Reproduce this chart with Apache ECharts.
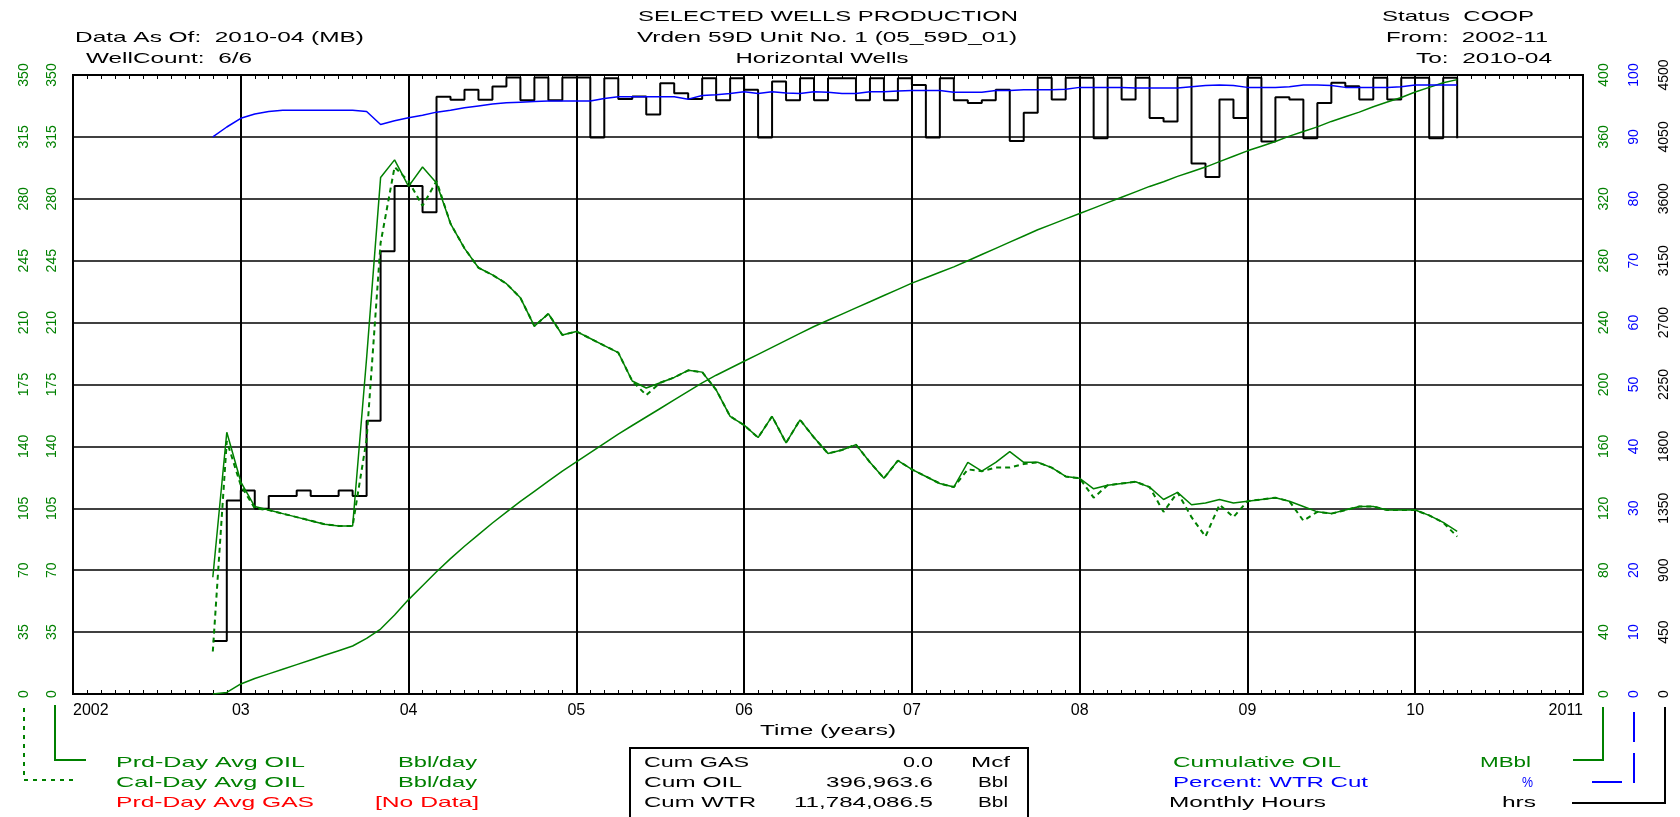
<!DOCTYPE html>
<html><head><meta charset="utf-8">
<script src="https://cdn.jsdelivr.net/npm/echarts@6/dist/echarts.min.js"></script>
<style>html,body{margin:0;padding:0;background:#fff}#c{width:1680px;height:817px}</style>
</head><body><div id="c"></div><script>
// ---- months 2002-11 .. 2010-04 ----
const months = [];
for (let i = 0; i < 90; i++) { const m = 10 + i; months.push((2002 + Math.floor(m / 12)) + '-' + String(m % 12 + 1).padStart(2, '0')); }

// Prd-Day Avg OIL (Bbl/day)
const prdOil = [66, 148,
 120, 106, 104, 102, 100, 98, 96, 95, 95, 190, 292, 302,
 287, 298, 289, 266, 252, 241, 237, 232, 224, 208, 215, 203,
 205, 201, 197, 193, 177, 173, 176, 179, 183, 182, 172, 157,
 152, 145, 157, 142, 155, 145, 136, 138, 141, 131, 122, 132,
 127, 123, 119, 117, 131, 126, 131, 137, 131, 131, 128, 123,
 122, 116, 118, 119, 120, 117, 110, 114, 107, 108, 110, 108,
 109, 110, 111, 109, 106, 103, 102, 104, 106, 106, 104, 104,
 104, 101, 97, 92];
// Cal-Day Avg OIL (Bbl/day)
const calOil = [24, 143,
 118, 105, 104, 102, 100, 98, 96, 95, 95, 144, 255, 298,
 290, 276, 290, 266, 252, 241, 237, 232, 224, 208, 215, 203,
 205, 201, 197, 193, 177, 169, 176, 179, 183, 182, 172, 157,
 152, 145, 157, 142, 155, 145, 136, 138, 141, 131, 122, 132,
 127, 123, 119, 117, 127, 126, 128, 128, 130, 131, 128, 123,
 122, 111, 118, 119, 120, 117, 103, 114, 100, 89, 107, 100,
 109, 110, 111, 109, 98, 103, 102, 104, 106, 106, 104, 104,
 104, 101, 97, 89];
// Cumulative OIL (MBbl)
const cumOil = [0, 1,
 6.5, 10, 13, 16, 19, 22, 25, 28, 31, 36, 42, 51,
 61, 70, 79, 87.5, 95.5, 103, 110.5, 117.5, 124.5, 131, 137.5, 144,
 150, 156, 162, 168, 173.5, 179, 184.5, 190, 195.5, 201, 206, 210.5,
 215, 219.5, 224, 228.5, 233, 237.5, 241.5, 245.5, 249.5, 253.5, 257.5, 261.5,
 265.5, 269, 272.5, 276, 280, 284, 288, 292, 296, 300, 303.5, 307,
 310.5, 314, 317.5, 321, 324.5, 328, 331, 334.5, 337.5, 340.5, 344, 347.5,
 351, 354, 357, 360.5, 363.5, 366.5, 370, 373, 376, 379.5, 382.5, 385.5,
 389, 392, 395, 397];
// Percent WTR Cut (%)
const wtrCut = [90, 91.6,
 93, 93.7, 94.1, 94.3, 94.3, 94.3, 94.3, 94.3, 94.3, 94.1, 92, 92.6,
 93.1, 93.5, 94.0, 94.3, 94.7, 95.0, 95.3, 95.5, 95.6, 95.7, 95.8, 95.8,
 95.8, 95.8, 96.2, 96.5, 96.5, 96.5, 96.5, 96.5, 96.1, 96.7, 96.8, 97.0,
 97.3, 97.0, 97.3, 97.1, 97.0, 97.3, 97.2, 97.0, 97.0, 97.3, 97.3, 97.4,
 97.5, 97.5, 97.5, 97.2, 97.2, 97.2, 97.5, 97.5, 97.6, 97.6, 97.6, 97.7,
 98.0, 98.0, 98.0, 98.0, 97.9, 97.9, 97.9, 97.9, 98.1, 98.3, 98.4, 98.3,
 98.0, 98.0, 98.0, 98.1, 98.4, 98.4, 98.3, 98.0, 98.0, 98.0, 98.0, 98.1,
 98.4, 98.4, 98.4, 98.4];
// Monthly Hours (hrs)
const hours = [386, 1407,
 1480, 1347, 1440, 1440, 1480, 1440, 1440, 1480, 1440, 1986, 3218, 3693,
 3693, 3503, 4341, 4320, 4392, 4320, 4416, 4481, 4316, 4481, 4316, 4481,
 4481, 4045, 4476, 4325, 4344, 4213, 4440, 4368, 4325, 4476, 4316, 4476,
 4392, 4045, 4452, 4316, 4476, 4316, 4476, 4476, 4316, 4476, 4316, 4476,
 4428, 4045, 4476, 4316, 4297, 4316, 4392, 4021, 4225, 4480, 4321, 4480,
 4480, 4040, 4480, 4321, 4480, 4187, 4162, 4480, 3857, 3759, 4321, 4187,
 4480, 4016, 4339, 4321, 4040, 4297, 4444, 4419, 4321, 4480, 4321, 4480,
 4480, 4040, 4480, 4040];

// Texts
const headerLeft = ['Data As Of:  2010-04 (MB)', 'WellCount:  6/6'];
const headerCenter = ['SELECTED WELLS PRODUCTION', 'Vrden 59D Unit No. 1 (05_59D_01)', 'Horizontal Wells'];
const headerRight = ['Status  COOP', 'From:  2002-11', 'To:  2010-04'];
const xAxisTitle = 'Time (years)';
const leftLegend = ['Prd-Day Avg OIL', 'Cal-Day Avg OIL', 'Prd-Day Avg GAS'];
const leftUnits = ['Bbl/day', 'Bbl/day', '[No Data]'];
const rightLegend = ['Cumulative OIL', 'Percent: WTR Cut', 'Monthly Hours'];
const rightUnits = ['MBbl', '%', 'hrs'];
const cumNames = ['Cum GAS', 'Cum OIL', 'Cum WTR'];
const cumValues = ['0.0', '396,963.6', '11,784,086.5'];
const cumUnits = ['Mcf', 'Bbl', 'Bbl'];

const GREEN = '#008000', BLUE = '#0000ff', RED = '#ff0000', BLACK = '#000000';
const FONT = '"Liberation Sans", Arial, sans-serif';

const xOf = s => +s.slice(0, 4) + (+s.slice(5, 7) - 1) / 12;
const pairs = arr => months.map((m, i) => [xOf(m), arr[i]]);

const mctx = document.createElement('canvas').getContext('2d');
function T(text, x, y, w, align, color, size) {
  size = size || 15;
  mctx.font = size + 'px ' + FONT;
  const s = w / mctx.measureText(text).width;
  return { type: 'text', x: x, y: y, scaleX: s, silent: true, z: 100,
    style: { text: text, fontSize: size, fontFamily: FONT, fill: color || BLACK,
      textAlign: align || 'left', textVerticalAlign: 'middle', align: align || 'left', verticalAlign: 'middle' } };
}
function P(points, color, dash) {
  return { type: 'polyline', silent: true, z: 100, shape: { points: points },
    style: { stroke: color, lineWidth: 2, fill: null, lineDash: dash || null } };
}

const graphics = [
  T(headerCenter[0], 828, 17, 380, 'center'),
  T(headerCenter[1], 827, 38, 380, 'center'),
  T(headerCenter[2], 822, 59, 173, 'center'),
  T(headerLeft[0], 75, 38, 289, 'left'),
  T(headerLeft[1], 86, 59, 166, 'left'),
  T(headerRight[0], 1382, 17, 152, 'left'),
  T(headerRight[1], 1386, 38, 162, 'left'),
  T(headerRight[2], 1416, 59, 136, 'left'),
  T(xAxisTitle, 828, 731, 136, 'center'),
  T(leftLegend[0], 116, 763, 189, 'left', GREEN),
  T(leftLegend[1], 116, 783, 189, 'left', GREEN),
  T(leftLegend[2], 116, 803, 198, 'left', RED),
  T(leftUnits[0], 477, 763, 79, 'right', GREEN),
  T(leftUnits[1], 477, 783, 79, 'right', GREEN),
  T(leftUnits[2], 479, 803, 104, 'right', RED),
  T(rightLegend[0], 1173, 763, 168, 'left', GREEN),
  T(rightLegend[1], 1173, 783, 195, 'left', BLUE),
  T(rightLegend[2], 1169, 803, 157, 'left', BLACK),
  T(rightUnits[0], 1531, 763, 51, 'right', GREEN),
  T(rightUnits[1], 1533, 783, 11, 'right', BLUE),
  T(rightUnits[2], 1536, 803, 34, 'right', BLACK),
  T(cumNames[0], 644, 763, 105, 'left'),
  T(cumNames[1], 644, 783, 98, 'left'),
  T(cumNames[2], 644, 803, 112, 'left'),
  T(cumValues[0], 933, 763, 30, 'right'),
  T(cumValues[1], 933, 783, 107, 'right'),
  T(cumValues[2], 933, 803, 139, 'right'),
  T(cumUnits[0], 1010, 763, 39, 'right'),
  T(cumUnits[1], 1008, 783, 30, 'right'),
  T(cumUnits[2], 1008, 803, 30, 'right'),
  { type: 'rect', silent: true, z: 100, shape: { x: 630, y: 748, width: 398, height: 80 },
    style: { stroke: BLACK, lineWidth: 2, fill: null } },
  P([[55, 705], [55, 760], [86, 760]], GREEN),
  P([[24, 708], [24, 780], [77, 780]], GREEN, [4, 5]),
  P([[1603, 707], [1603, 760], [1573, 760]], GREEN),
  P([[1634, 712], [1634, 782], [1588, 782]], BLUE, [30, 11]),
  P([[1665, 707], [1665, 803], [1572, 803]], BLACK)
];

function yAx(min, max, interval, pos, offset, color, extra) {
  return Object.assign({
    type: 'value', min: min, max: max, interval: interval, position: pos, offset: offset,
    axisLine: { show: false }, axisTick: { show: false }, splitLine: { show: false },
    axisLabel: { show: true, rotate: 90, color: color, fontFamily: FONT, fontSize: 14, margin: 14,
      formatter: v => String(v) }
  }, extra || {});
}

const chart = echarts.init(document.getElementById('c'), null, { renderer: 'canvas' });
chart.setOption({
  animation: false,
  backgroundColor: '#fff',
  grid: { left: 73, right: 97, top: 75, bottom: 123, show: true, borderColor: BLACK, borderWidth: 2, containLabel: false },
  xAxis: [
    { type: 'value', min: 2002, max: 2011, interval: 1, position: 'bottom',
      axisLine: { show: true, onZero: false, lineStyle: { color: BLACK, width: 2 } },
      axisTick: { show: true, inside: true, length: 6, lineStyle: { color: BLACK, width: 1.5 } },
      minorTick: { show: true, splitNumber: 12, length: 4, lineStyle: { color: BLACK, width: 1 } },
      splitLine: { show: true, lineStyle: { color: BLACK, width: 2 } },
      axisLabel: { color: BLACK, fontFamily: FONT, fontSize: 16, margin: 9,
        alignMinLabel: 'left', alignMaxLabel: 'right',
        formatter: v => (v === 2002 || v === 2011) ? String(v) : String(v).slice(2) } },
    { type: 'value', min: 2002, max: 2011, interval: 1, position: 'top',
      axisLine: { show: true, onZero: false, lineStyle: { color: BLACK, width: 2 } },
      axisTick: { show: true, inside: true, length: 6, lineStyle: { color: BLACK, width: 1.5 } },
      minorTick: { show: true, splitNumber: 12, length: 4, lineStyle: { color: BLACK, width: 1 } },
      splitLine: { show: false }, axisLabel: { show: false } }
  ],
  yAxis: [
    yAx(0, 350, 35, 'left', 0, GREEN, { axisLine: { show: true, onZero: false, lineStyle: { color: BLACK, width: 2 } },
      splitLine: { show: true, lineStyle: { color: BLACK, width: 1.5 } } }),
    yAx(0, 350, 35, 'left', 28, GREEN),
    yAx(0, 400, 40, 'right', 0, GREEN, { axisLine: { show: true, onZero: false, lineStyle: { color: BLACK, width: 2 } } }),
    yAx(0, 100, 10, 'right', 30, BLUE),
    yAx(0, 4500, 450, 'right', 60, BLACK)
  ],
  series: [
    { name: 'Monthly Hours', type: 'line', yAxisIndex: 4, step: 'end', data: pairs(hours),
      symbol: 'none', silent: true, lineStyle: { color: BLACK, width: 2 }, z: 2 },
    { name: 'Cumulative OIL', type: 'line', yAxisIndex: 2, data: pairs(cumOil),
      symbol: 'none', silent: true, lineStyle: { color: GREEN, width: 1.5 }, z: 3 },
    { name: 'Percent: WTR Cut', type: 'line', yAxisIndex: 3, data: pairs(wtrCut),
      symbol: 'none', silent: true, lineStyle: { color: BLUE, width: 1.5 }, z: 3 },
    { name: 'Cal-Day Avg OIL', type: 'line', yAxisIndex: 1, data: pairs(calOil),
      symbol: 'none', silent: true, lineStyle: { color: GREEN, width: 2, type: [5, 4] }, z: 4 },
    { name: 'Prd-Day Avg OIL', type: 'line', yAxisIndex: 0, data: pairs(prdOil),
      symbol: 'none', silent: true, lineStyle: { color: GREEN, width: 1.5 }, z: 5 }
  ],
  graphic: graphics
});
</script></body></html>
